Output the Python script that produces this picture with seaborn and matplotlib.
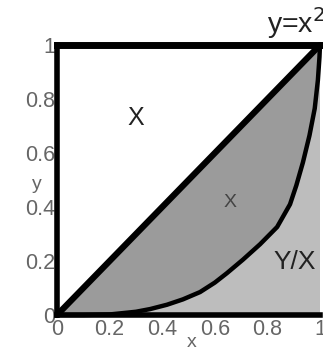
import numpy as np
import matplotlib
matplotlib.use("Agg")
import matplotlib.pyplot as plt
import seaborn as sns

# curve (the lower boundary)
curve_x = [0.0, 0.1, 0.2, 0.3, 0.354, 0.418, 0.479, 0.544, 0.60, 0.646, 0.707,
           0.772, 0.837, 0.886, 0.91, 0.935, 0.96, 0.98, 0.992, 0.998, 1.0]
curve_y = [0.0, 0.0, 0.002, 0.012, 0.022, 0.038, 0.058, 0.085, 0.12, 0.155, 0.205,
           0.262, 0.326, 0.41, 0.48, 0.565, 0.665, 0.765, 0.870, 0.955, 1.0]

# diagonal y = x
diag_x = [0.0, 1.0]
diag_y = [0.0, 1.0]

ticks = [0, 0.2, 0.4, 0.6, 0.8, 1]
tick_labels = ["0", "0.2", "0.4", "0.6", "0.8", "1"]

sns.set_style("white")
plt.rcParams["font.family"] = ["Liberation Sans", "DejaVu Sans"]

fig = plt.figure(figsize=(3.23, 3.49), dpi=100)
ax = fig.add_axes([0.1765, 0.0974, 0.8142, 0.7736])

# shaded regions
ax.fill(np.r_[diag_x, curve_x[::-1]], np.r_[diag_y, curve_y[::-1]],
        color="#9b9b9b", lw=0, zorder=1)
ax.fill(np.r_[curve_x, [1.0, 0.0]], np.r_[curve_y, [0.0, 0.0]],
        color="#bdbdbd", lw=0, zorder=1)

sns.lineplot(x=diag_x, y=diag_y, ax=ax, color="black", lw=4.5,
             estimator=None, sort=False, zorder=3, clip_on=False)
sns.lineplot(x=curve_x, y=curve_y, ax=ax, color="black", lw=3.2,
             estimator=None, sort=False, zorder=3, clip_on=False,
             solid_joinstyle="round", solid_capstyle="round")

ax.set_xlim(0, 1)
ax.set_ylim(0, 1)
ax.set_xticks(ticks)
ax.set_xticklabels(tick_labels)
ax.set_yticks(ticks)
ax.set_yticklabels(tick_labels)
ax.set_xticks(np.arange(0, 1.001, 0.04), minor=True)
ax.set_yticks(np.arange(0, 1.001, 0.04), minor=True)
ax.tick_params(axis="both", which="major", direction="in", length=6, width=1.5,
               labelsize=15.5, labelcolor="#666666", pad=1)
ax.tick_params(axis="both", which="minor", direction="in", length=4.5, width=1.2)
ax.tick_params(axis="x", pad=3)

for side in ["left", "bottom", "top"]:
    ax.spines[side].set_linewidth(4)
    ax.spines[side].set_color("black")
    ax.spines[side].set_zorder(4)
ax.spines["top"].set_linewidth(5)
ax.spines["right"].set_visible(False)

ax.text(0.30, 0.73, "X", fontsize=18, ha="center", va="center", color="#222222")
ax.text(0.658, 0.415, "X", fontsize=14, ha="center", va="center", color="#444444")
ax.text(0.905, 0.196, "Y/X", fontsize=19, ha="center", va="center", color="#222222")
ax.text(0.80, 1.045, "y=x$^2$", fontsize=20.5, ha="left", va="baseline",
        color="#222222", clip_on=False)
ax.text(-0.076, 0.485, "y", transform=ax.transAxes, fontsize=14,
        ha="center", va="center", color="#666666")
ax.text(0.513, -0.10, "x", transform=ax.transAxes, fontsize=14,
        ha="center", va="center", color="#666666")

fig.savefig("out.png", dpi=100)
plt.close(fig)
